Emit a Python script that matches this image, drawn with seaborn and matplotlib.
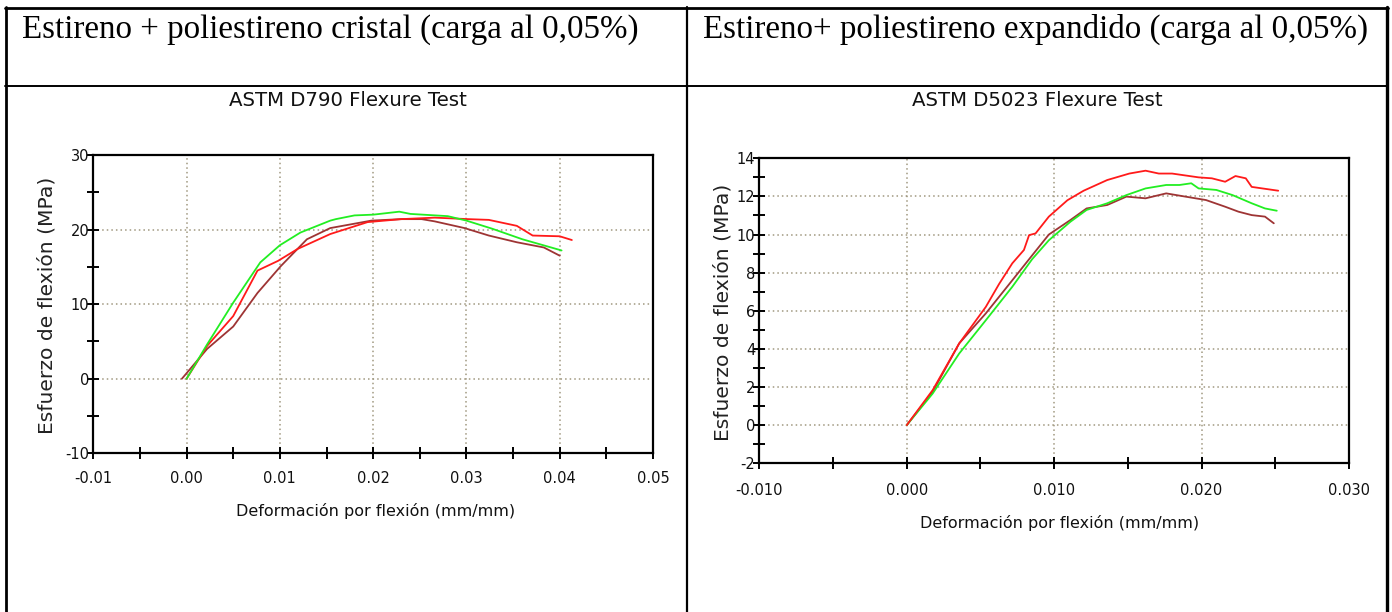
import matplotlib
matplotlib.use("Agg")
import matplotlib.pyplot as plt
from matplotlib.lines import Line2D
from matplotlib.ticker import MultipleLocator, FormatStrFormatter
import seaborn as sns
import pandas as pd

# ---------------- data ----------------
header_left = "Estireno + poliestireno cristal (carga al 0,05%)"
header_right = "Estireno+ poliestireno expandido (carga al 0,05%)"
title_left = "ASTM D790 Flexure Test"
title_right = "ASTM D5023 Flexure Test"
xlabel = "Deformación por flexión (mm/mm)"
ylabel = "Esfuerzo de flexión (MPa)"

# Chart 1 (D790)
c1_green_x = [0.0, 0.0022, 0.005, 0.0079, 0.010, 0.0122, 0.0154, 0.016, 0.018, 0.020, 0.0228, 0.024, 0.028, 0.030, 0.0328, 0.036, 0.0402]
c1_green_y = [0, 4.6, 10.2, 15.6, 17.9, 19.6, 21.2, 21.4, 21.9, 22.0, 22.4, 22.1, 21.8, 21.2, 20.1, 18.7, 17.2]
c1_red_x = [0.0, 0.0022, 0.005, 0.0076, 0.0098, 0.0119, 0.0154, 0.0194, 0.023, 0.0266, 0.0302, 0.0324, 0.0354, 0.0371, 0.040, 0.0413]
c1_red_y = [0, 4.4, 8.4, 14.5, 15.8, 17.4, 19.4, 21.0, 21.4, 21.6, 21.4, 21.3, 20.5, 19.2, 19.1, 18.6]
c1_brown_x = [-0.0005, 0.0022, 0.005, 0.0076, 0.0101, 0.0129, 0.0154, 0.0198, 0.023, 0.0252, 0.0266, 0.0298, 0.0324, 0.0354, 0.0383, 0.040]
c1_brown_y = [0, 4.0, 7.0, 11.5, 15.1, 18.7, 20.2, 21.2, 21.4, 21.4, 21.1, 20.2, 19.2, 18.3, 17.6, 16.5]

# Chart 2 (D5023)
c2_red_x = [0, 0.00176, 0.00356, 0.00536, 0.00626, 0.00716, 0.00795, 0.0083, 0.00874, 0.00964, 0.0109, 0.012, 0.0136, 0.0151, 0.0162, 0.0171, 0.018, 0.0198, 0.0207, 0.0216, 0.0223, 0.023, 0.0234, 0.0243, 0.0252]
c2_red_y = [0, 1.84, 4.29, 6.2, 7.4, 8.49, 9.19, 9.97, 10.06, 10.94, 11.8, 12.3, 12.86, 13.2, 13.35, 13.2, 13.2, 13.0, 12.95, 12.77, 13.07, 12.95, 12.5, 12.4, 12.3]
c2_green_x = [0, 0.00176, 0.00356, 0.00536, 0.00716, 0.0085, 0.00964, 0.0111, 0.0122, 0.0136, 0.0149, 0.0162, 0.0176, 0.0185, 0.0193, 0.0198, 0.021, 0.0221, 0.0234, 0.0243, 0.0251]
c2_green_y = [0, 1.66, 3.76, 5.5, 7.26, 8.7, 9.7, 10.67, 11.29, 11.64, 12.07, 12.42, 12.6, 12.6, 12.69, 12.42, 12.34, 12.07, 11.64, 11.37, 11.25]
c2_brown_x = [0, 0.00176, 0.00356, 0.00536, 0.00716, 0.0085, 0.00964, 0.0111, 0.0122, 0.0136, 0.0149, 0.0162, 0.0176, 0.0189, 0.0203, 0.0216, 0.0225, 0.0234, 0.0243, 0.0249]
c2_brown_y = [0, 1.75, 4.29, 5.86, 7.6, 8.9, 10.0, 10.76, 11.37, 11.55, 11.99, 11.9, 12.16, 11.99, 11.81, 11.46, 11.2, 11.02, 10.94, 10.59]

palette = {"brown": "#9e3434", "red": "#ff1a1a", "green": "#22ee22"}


def frame(series):
    rows = []
    for name, xs, ys in series:
        for i, (x, y) in enumerate(zip(xs, ys)):
            rows.append({"serie": name, "x": x, "y": y, "i": i})
    return pd.DataFrame(rows)


df1 = frame([("brown", c1_brown_x, c1_brown_y), ("red", c1_red_x, c1_red_y), ("green", c1_green_x, c1_green_y)])
df2 = frame([("brown", c2_brown_x, c2_brown_y), ("green", c2_green_x, c2_green_y), ("red", c2_red_x, c2_red_y)])

sns.set_style("white")
plt.rcParams["font.family"] = ["DejaVu Sans"]

W, H = 1392, 612
fig = plt.figure(figsize=(W / 100, H / 100), dpi=100)


def px_axes(l, t, r, b):
    return fig.add_axes([l / W, 1 - b / H, (r - l) / W, (b - t) / H])


grid_kw = dict(color="#a09880", linestyle=(0, (1, 2)), linewidth=1.1)


def style(ax, xlim, ylim, xmaj, xmin, ymaj, ymin, xfmt, xpad):
    ax.set_xlim(*xlim)
    ax.set_ylim(*ylim)
    ax.xaxis.set_major_locator(MultipleLocator(xmaj))
    ax.xaxis.set_minor_locator(MultipleLocator(xmin))
    ax.yaxis.set_major_locator(MultipleLocator(ymaj))
    ax.yaxis.set_minor_locator(MultipleLocator(ymin))
    ax.xaxis.set_major_formatter(FormatStrFormatter(xfmt))
    ax.yaxis.set_major_formatter(FormatStrFormatter("%d"))
    ax.tick_params(axis="both", which="both", direction="inout", length=8, width=1.4,
                   color="black", labelsize=10.5, labelcolor="#111111",
                   bottom=True, left=True, top=False, right=False)
    ax.tick_params(axis="x", which="major", pad=xpad)
    ax.tick_params(axis="y", which="major", pad=-1)
    ax.grid(True, which="major", **grid_kw)
    for s in ax.spines.values():
        s.set_visible(True)
        s.set_color("black")
        s.set_linewidth(1.6)
    ax.set_xlabel("")
    ax.set_ylabel("")
    leg = ax.get_legend()
    if leg:
        leg.remove()


# ---- chart 1 ----
ax1 = px_axes(93.3, 155, 653, 453.3)
sns.lineplot(data=df1, x="x", y="y", hue="serie", units="serie", estimator=None, sort=False,
             palette=palette, linewidth=1.3, ax=ax1, legend=False)
style(ax1, (-0.01, 0.05), (-10, 30), 0.01, 0.005, 10, 5, "%.2f", 9)

# ---- chart 2 ----
ax2 = px_axes(759.3, 158.3, 1349, 463.3)
sns.lineplot(data=df2, x="x", y="y", hue="serie", units="serie", estimator=None, sort=False,
             palette=palette, linewidth=1.3, ax=ax2, legend=False)
style(ax2, (-0.010, 0.030), (-2, 14), 0.010, 0.005, 2, 1, "%.3f", 10)

# ---- texts ----
fig.text(348 / W, 1 - 101 / H, title_left, ha="center", va="center", fontsize=14.2, color="#111111")
fig.text(1037 / W, 1 - 101 / H, title_right, ha="center", va="center", fontsize=14.2, color="#111111")
fig.text(47 / W, 1 - 305 / H, ylabel, ha="center", va="center", rotation=90, fontsize=14.6, color="#222222")
fig.text(723 / W, 1 - 312 / H, ylabel, ha="center", va="center", rotation=90, fontsize=14.6, color="#222222")
fig.text(376 / W, 1 - 511 / H, xlabel, ha="center", va="center", fontsize=11.5, color="#111111")
fig.text(1060 / W, 1 - 523 / H, xlabel, ha="center", va="center", fontsize=11.5, color="#111111")

fig.text(22 / W, 1 - 38 / H, header_left, ha="left", va="baseline", fontsize=23.8,
         family=["Liberation Serif", "DejaVu Serif"], color="black")
fig.text(703 / W, 1 - 38 / H, header_right, ha="left", va="baseline", fontsize=23.8,
         family=["Liberation Serif", "DejaVu Serif"], color="black")

# ---- table lines ----
def hline(y, x0, x1, lw=1.6):
    fig.add_artist(Line2D([x0 / W, x1 / W], [1 - y / H, 1 - y / H], color="black", linewidth=lw))


def vline(x, y0, y1, lw=1.6):
    fig.add_artist(Line2D([x / W, x / W], [1 - y0 / H, 1 - y1 / H], color="black", linewidth=lw))


hline(7.5, 5, 1388, 2.0)
hline(85.7, 5, 1388, 1.4)
vline(6, 7, 612, 2.0)
vline(686.7, 7, 612, 1.6)
vline(1387, 7, 612, 2.4)

fig.savefig("out.png", dpi=100, facecolor="white")
